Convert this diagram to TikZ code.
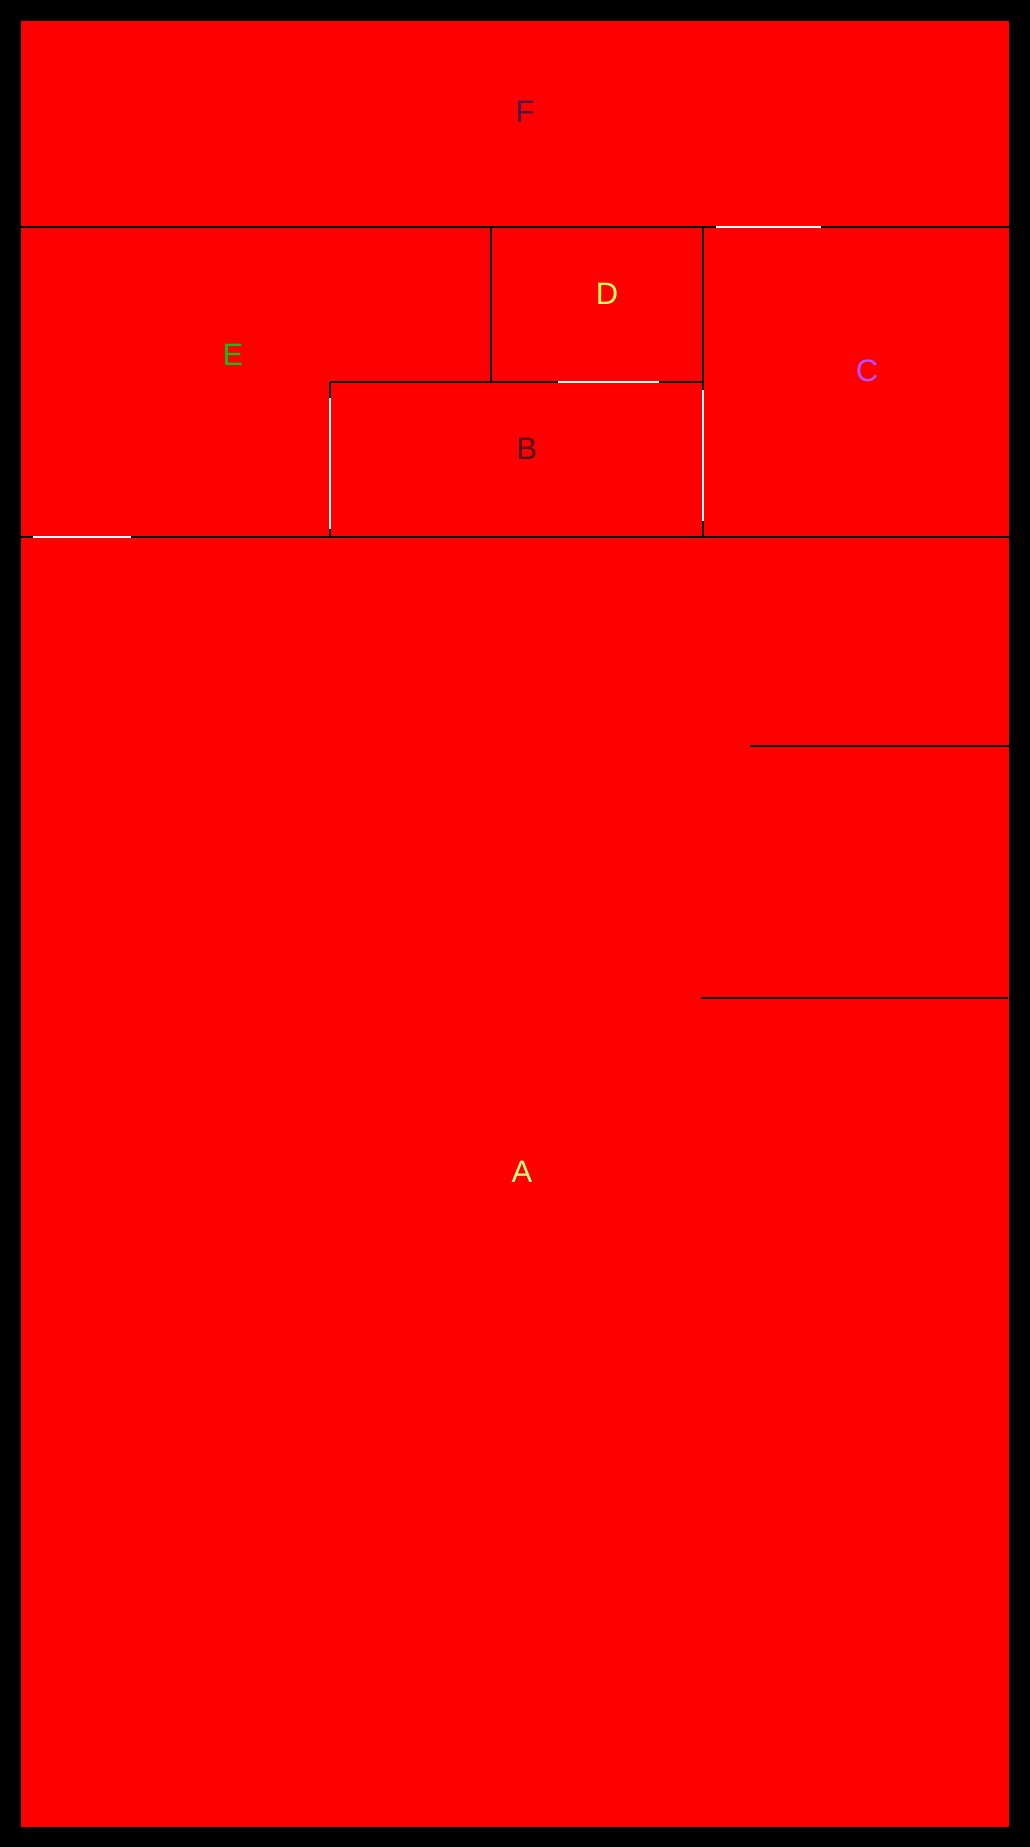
\documentclass[tikz,border=0pt]{standalone}
\usepackage{fontspec}
\setmainfont{Liberation Sans}
\definecolor{roomred}{RGB}{255,0,0}
\definecolor{labF}{RGB}{80,20,70}
\definecolor{labE}{RGB}{20,190,20}
\definecolor{labD}{RGB}{225,255,90}
\definecolor{labC}{RGB}{180,80,255}
\definecolor{labB}{RGB}{80,15,30}
\definecolor{labA}{RGB}{215,255,130}
\begin{document}
\begin{tikzpicture}[x=1pt,y=-1pt,
  wall/.style={draw=black,line width=2.2pt},
  door/.style={draw=white,line width=2pt},
  lab/.style={font=\fontsize{31}{31}\selectfont,inner sep=0pt}]
\useasboundingbox (0,0) rectangle (1030,1847);
\fill[black] (0,0) rectangle (1030,1847);
\fill[roomred] (21,21) rectangle (1009,1827);
% walls
\draw[wall] (21,227) -- (1010,227);
\draw[wall] (491,227) -- (491,382);
\draw[wall] (703,227) -- (703,537);
\draw[wall] (330,382) -- (703,382);
\draw[wall] (330,382) -- (330,537);
\draw[wall,line width=2.6pt] (21,537) -- (1009,537);
\draw[wall,line width=2pt] (750,746) -- (1009,746);
\draw[wall,line width=2pt] (701,998) -- (1008,998);
% doors
\draw[door] (716,227) -- (821,227);
\draw[door] (558,382) -- (659,382);
\draw[door] (330,398) -- (330,529);
\draw[door] (703,390) -- (703,521);
\draw[door] (33,537) -- (131,537);
% labels
\node[lab,text=labF] (F) at (525,112) {F};
\node[lab,text=labE] (E) at (233,355) {E};
\node[lab,text=labD] (D) at (607,294) {D};
\node[lab,text=labC] (C) at (867,371) {C};
\node[lab,text=labB] (B) at (527,449) {B};
\node[lab,text=labA] (A) at (522,1172) {A};
\end{tikzpicture}
\end{document}
